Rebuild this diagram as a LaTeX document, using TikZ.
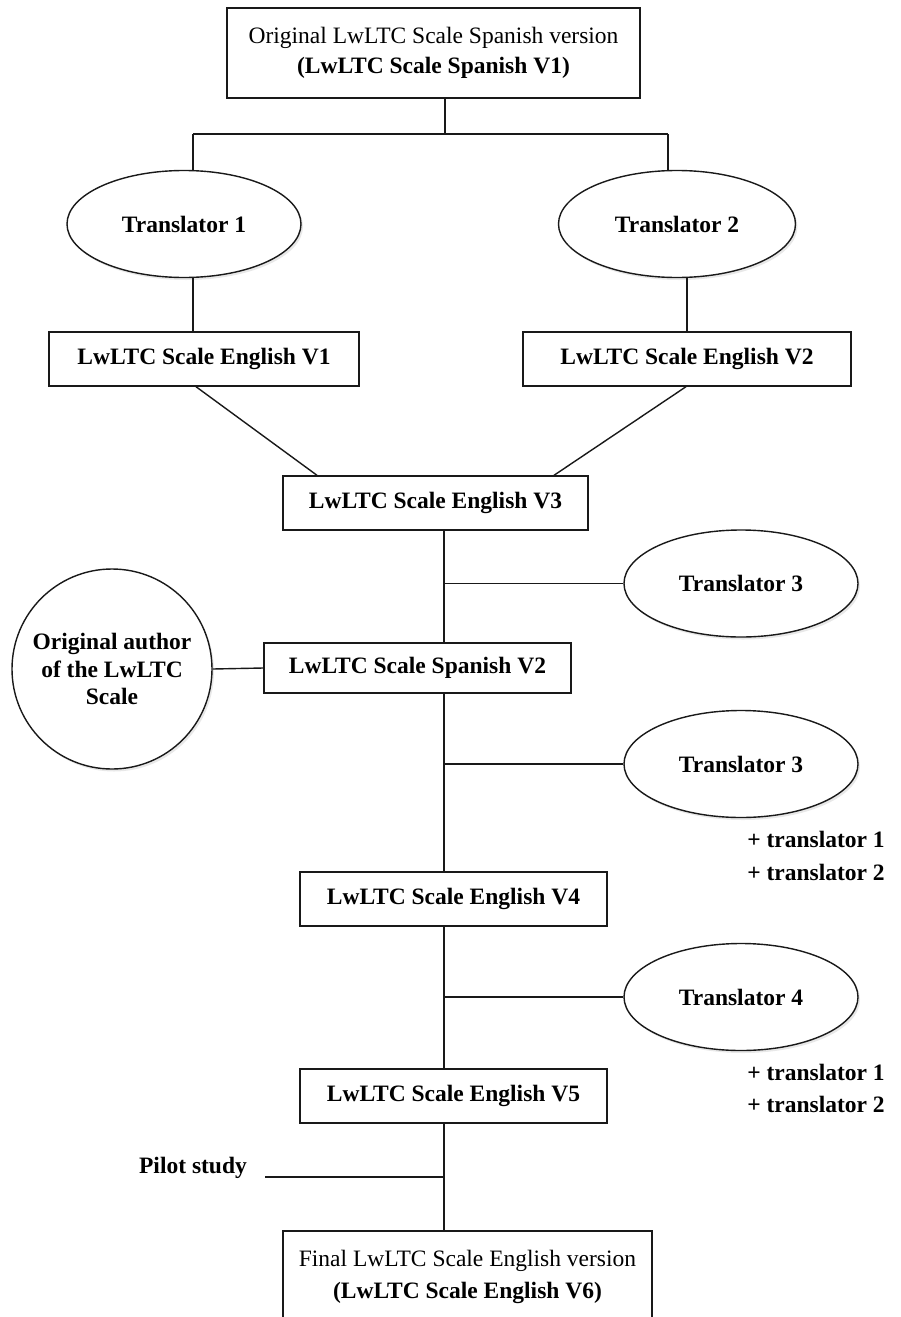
\documentclass[tikz,border=0pt]{standalone}
\usepackage{fontspec}
\setmainfont{Liberation Serif}
\usetikzlibrary{shapes.geometric,shadows}
\newcommand\diafont{\fontsize{23.5}{30}\selectfont}
\tikzset{
  line/.style={line width=1.4pt, draw=black!90},
  boxnode/.style={draw=black!90, line width=1.4pt, rectangle, fill=white, inner sep=0pt, font=\diafont\bfseries, align=center},
  softshadow/.style={drop shadow={shadow xshift=2pt, shadow yshift=-2.5pt, opacity=0.18}},
  ovalnode/.style={draw=black!90, line width=1.4pt, ellipse, fill=white, inner sep=0pt, font=\diafont\bfseries, align=center,
    minimum width=234pt, minimum height=107pt, softshadow},
  roundnode/.style={draw=black!90, line width=1.4pt, circle, fill=white, inner sep=0pt, align=center,
    minimum size=200pt, softshadow},
  plainlabel/.style={inner sep=0pt, font=\diafont\bfseries, align=left}
}
\begin{document}
\begin{tikzpicture}[x=1pt, y=-1pt]
\useasboundingbox (0,0) rectangle (901,1317);
\fill[white] (0,0) rectangle (901,1317);
\clip (0,0) rectangle (901,1317);

% x positions used by connectors
\coordinate (xL) at (193,0);
\coordinate (xR) at (668,0);
\coordinate (xT) at (445,0);
\coordinate (xS) at (444,0);
\coordinate (xD1) at (196,0);
\coordinate (xD2) at (317,0);
\coordinate (xD3) at (686,0);
\coordinate (xD4) at (554,0);
\coordinate (br) at (445,134);

% nodes
\node[boxnode, minimum width=413pt, minimum height=90pt, font=\diafont] (top) at (433.5,53)
  {Original LwLTC Scale Spanish version\\\textbf{(LwLTC Scale Spanish V1)}};
\node[ovalnode] (t1) at (184,224) {Translator 1};
\node[ovalnode, minimum width=237pt] (t2) at (677,224) {Translator 2};
\node[boxnode, minimum width=310pt, minimum height=54pt] (v1) at (204,359) {LwLTC Scale English V1};
\node[boxnode, minimum width=328pt, minimum height=54pt] (v2) at (687,359) {LwLTC Scale English V2};
\node[boxnode, minimum width=305pt, minimum height=54pt] (v3) at (435.5,503) {LwLTC Scale English V3};
\node[ovalnode] (t3) at (741,583.5) {Translator 3};
\node[roundnode, font=\fontsize{23.5}{27.5}\selectfont\bfseries] (auth) at (112,669)
  {Original author\\of the LwLTC\\Scale};
\node[boxnode, minimum width=307pt, minimum height=50pt] (s2) at (417.5,668) {LwLTC Scale Spanish V2};
\node[ovalnode] (t3b) at (741,764) {Translator 3};
\node[plainlabel, font=\fontsize{23.5}{32.5}\selectfont\bfseries] (p1) at (816,856) {+ translator 1\\+ translator 2};
\node[boxnode, minimum width=307pt, minimum height=54pt] (v4) at (453.5,899) {LwLTC Scale English V4};
\node[ovalnode] (t4) at (741,997) {Translator 4};
\node[plainlabel, font=\fontsize{23.5}{32.5}\selectfont\bfseries] (p2) at (816,1088.5) {+ translator 1\\+ translator 2};
\node[boxnode, minimum width=307pt, minimum height=54pt] (v5) at (453.5,1096) {LwLTC Scale English V5};
\node[plainlabel] (pilot) at (193,1168) {Pilot study};
\coordinate (pe) at (265,1177);
\node[boxnode, minimum width=369pt, minimum height=92pt, font=\fontsize{23.5}{32}\selectfont] (fin) at (467.5,1277)
  {Final LwLTC Scale English version\\\textbf{(LwLTC Scale English V6)}};

% connectors
\draw[line] (top.south -| xT) -- (br);
\draw[line] (br -| xL) -- (br -| xR);
\draw[line] (br -| xL) -- (t1.north -| xL);
\draw[line] (br -| xR) -- (t2.north -| xR);
\draw[line] (t1.south -| xL) -- (v1.north -| xL);
\draw[line] (t2.south -| v2.north) -- (v2.north);
\draw[line] (v1.south -| xD1) -- (v3.north -| xD2);
\draw[line] (v2.south -| xD3) -- (v3.north -| xD4);
\draw[line] (v3.south -| xS) -- (s2.north -| xS);
\draw[line] (xS |- t3.west) -- (t3.west);
\draw[line] (auth.east) -- (s2.west);
\draw[line] (s2.south -| xS) -- (v4.north -| xS);
\draw[line] (xS |- t3b.west) -- (t3b.west);
\draw[line] (v4.south -| xS) -- (v5.north -| xS);
\draw[line] (xS |- t4.west) -- (t4.west);
\draw[line] (v5.south -| xS) -- (fin.north -| xS);
\draw[line] (pe) -- (pe -| xS);
\end{tikzpicture}
\end{document}
